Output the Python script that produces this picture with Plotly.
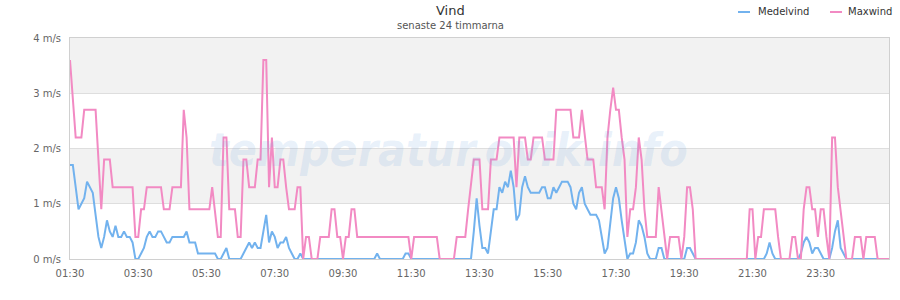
import pandas as pd
import plotly.graph_objects as go

# ---- data (5-minute samples, 01:30 -> 01:30 next day) ----
start_time = "2024-01-01 01:30"
n_samples = 289
times = pd.date_range(start_time, periods=n_samples, freq="5min")

medelvind = [
    1.7, 1.7, 1.3, 0.9, 1.0, 1.1, 1.4, 1.3, 1.2, 0.8, 0.4, 0.2,
    0.4, 0.7, 0.5, 0.4, 0.6, 0.4, 0.4, 0.5, 0.4, 0.4, 0.3, 0.0,
    0.0, 0.1, 0.2, 0.4, 0.5, 0.4, 0.4, 0.5, 0.5, 0.4, 0.3, 0.3,
    0.4, 0.4, 0.4, 0.4, 0.4, 0.5, 0.3, 0.3, 0.3, 0.1, 0.1, 0.1,
    0.1, 0.1, 0.1, 0.1, 0.0, 0.0, 0.1, 0.2, 0.0, 0.0, 0.0, 0.0,
    0.0, 0.1, 0.2, 0.3, 0.2, 0.3, 0.2, 0.2, 0.5, 0.8, 0.3, 0.5,
    0.4, 0.2, 0.3, 0.3, 0.4, 0.2, 0.1, 0.0, 0.0, 0.1, 0.0, 0.0,
    0.0, 0.0, 0.0, 0.0, 0.0, 0.0, 0.0, 0.0, 0.0, 0.0, 0.0, 0.0,
    0.0, 0.0, 0.0, 0.0, 0.0, 0.0, 0.0, 0.0, 0.0, 0.0, 0.0, 0.0,
    0.1, 0.0, 0.0, 0.0, 0.0, 0.0, 0.0, 0.0, 0.0, 0.0, 0.1, 0.1,
    0.0, 0.0, 0.0, 0.0, 0.0, 0.0, 0.0, 0.0, 0.0, 0.0, 0.0, 0.0,
    0.0, 0.0, 0.0, 0.0, 0.0, 0.0, 0.0, 0.0, 0.0, 0.0, 0.5, 1.1,
    0.6, 0.2, 0.2, 0.1, 0.5, 0.9, 0.9, 1.3, 1.2, 1.4, 1.3, 1.6,
    1.3, 0.7, 0.8, 1.3, 1.5, 1.3, 1.2, 1.2, 1.2, 1.2, 1.3, 1.3,
    1.1, 1.1, 1.3, 1.2, 1.3, 1.4, 1.4, 1.4, 1.3, 1.0, 0.9, 1.2,
    1.3, 1.0, 0.9, 0.8, 0.8, 0.8, 0.7, 0.4, 0.1, 0.2, 0.7, 1.1,
    1.3, 1.1, 0.7, 0.3, 0.0, 0.1, 0.1, 0.3, 0.7, 0.6, 0.4, 0.1,
    0.0, 0.0, 0.0, 0.2, 0.2, 0.0, 0.0, 0.0, 0.0, 0.0, 0.0, 0.0,
    0.0, 0.2, 0.2, 0.1, 0.0, 0.0, 0.0, 0.0, 0.0, 0.0, 0.0, 0.0,
    0.0, 0.0, 0.0, 0.0, 0.0, 0.0, 0.0, 0.0, 0.0, 0.0, 0.0, 0.0,
    0.0, 0.0, 0.0, 0.0, 0.0, 0.1, 0.3, 0.1, 0.0, 0.0, 0.0, 0.0,
    0.0, 0.0, 0.0, 0.0, 0.0, 0.1, 0.3, 0.4, 0.3, 0.1, 0.2, 0.2,
    0.1, 0.0, 0.0, 0.0, 0.2, 0.5, 0.7, 0.2, 0.1, 0.0, 0.0, 0.0,
    0.0, 0.0, 0.0, 0.0, 0.0, 0.0, 0.0, 0.0, 0.0, 0.0, 0.0, 0.0,
    0.0,
]

maxwind = [
    3.6, 2.9, 2.2, 2.2, 2.2, 2.7, 2.7, 2.7, 2.7, 2.7, 1.8, 0.9,
    1.8, 1.8, 1.8, 1.3, 1.3, 1.3, 1.3, 1.3, 1.3, 1.3, 1.3, 0.4,
    0.4, 0.9, 0.9, 1.3, 1.3, 1.3, 1.3, 1.3, 1.3, 0.9, 0.9, 0.9,
    1.3, 1.3, 1.3, 1.3, 2.7, 2.2, 0.9, 0.9, 0.9, 0.9, 0.9, 0.9,
    0.9, 0.9, 1.3, 0.9, 0.4, 0.4, 2.2, 2.2, 0.9, 0.9, 0.9, 0.4,
    0.4, 1.8, 1.8, 1.3, 1.3, 1.3, 1.8, 1.8, 3.6, 3.6, 1.3, 2.2,
    1.3, 1.3, 1.8, 1.8, 1.3, 0.9, 0.9, 0.9, 1.3, 1.3, 0.0, 0.4,
    0.4, 0.0, 0.0, 0.0, 0.4, 0.4, 0.4, 0.4, 0.9, 0.9, 0.4, 0.4,
    0.0, 0.4, 0.4, 0.9, 0.9, 0.4, 0.4, 0.4, 0.4, 0.4, 0.4, 0.4,
    0.4, 0.4, 0.4, 0.4, 0.4, 0.4, 0.4, 0.4, 0.4, 0.4, 0.4, 0.4,
    0.0, 0.4, 0.4, 0.4, 0.4, 0.4, 0.4, 0.4, 0.4, 0.4, 0.0, 0.0,
    0.0, 0.0, 0.0, 0.0, 0.4, 0.4, 0.4, 0.4, 0.9, 1.3, 1.8, 1.8,
    1.8, 0.9, 0.9, 0.9, 1.8, 1.8, 1.8, 2.2, 2.2, 2.2, 2.2, 2.2,
    2.2, 1.3, 2.2, 2.2, 2.2, 1.8, 1.8, 2.2, 2.2, 2.2, 2.2, 1.8,
    1.8, 1.8, 1.8, 2.7, 2.7, 2.7, 2.7, 2.7, 2.7, 2.2, 2.2, 2.2,
    2.7, 2.2, 1.8, 1.8, 1.8, 1.3, 1.3, 1.3, 0.9, 2.2, 2.7, 3.1,
    2.7, 2.7, 2.2, 1.8, 0.4, 0.9, 0.9, 1.3, 2.2, 1.8, 0.9, 0.4,
    0.4, 0.4, 0.4, 1.3, 0.9, 0.4, 0.0, 0.4, 0.4, 0.4, 0.4, 0.0,
    0.4, 1.3, 1.3, 0.9, 0.0, 0.0, 0.0, 0.0, 0.0, 0.0, 0.0, 0.0,
    0.0, 0.0, 0.0, 0.0, 0.0, 0.0, 0.0, 0.0, 0.0, 0.0, 0.0, 0.9,
    0.9, 0.0, 0.4, 0.4, 0.9, 0.9, 0.9, 0.9, 0.9, 0.4, 0.0, 0.0,
    0.0, 0.0, 0.4, 0.4, 0.0, 0.0, 0.9, 1.3, 1.3, 0.9, 0.9, 0.4,
    0.9, 0.9, 0.4, 0.0, 2.2, 2.2, 1.3, 0.9, 0.4, 0.0, 0.0, 0.0,
    0.4, 0.4, 0.4, 0.0, 0.4, 0.4, 0.4, 0.4, 0.0, 0.0, 0.0, 0.0,
    0.0,
]

series_names = ["Medelvind", "Maxwind"]
series_colors = ["#72b2ee", "#f28ac3"]
y_ticks = [0, 1, 2, 3, 4]
y_tick_labels = [f"{v} m/s" for v in y_ticks]
title_text = "Vind"
subtitle_text = "senaste 24 timmarna"
watermark_text = "temperatur.ovik.info"

# ---- layout geometry (pixels) ----
W, H = 900, 300
ML, MR, MT, MB = 70, 11, 38, 41
PW, PH = W - ML - MR, H - MT - MB


def px(x):
    return (x - ML) / PW


def py(y):
    return (H - MB - y) / PH


FONT = "DejaVu Sans"

fig = go.Figure()
for name, vals, col in zip(series_names, [medelvind, maxwind], series_colors):
    fig.add_trace(go.Scatter(
        x=times, y=vals, mode="lines", name=name,
        line=dict(color=col, width=2),
        hoverinfo="x+y",
    ))

shapes = []
# plot bands
for y0, y1 in [(1, 2), (3, 4)]:
    shapes.append(dict(type="rect", xref="paper", yref="y", x0=0, x1=1,
                       y0=y0, y1=y1, fillcolor="#f2f2f2", line=dict(width=0),
                       layer="below"))
# legend symbols
leg_y = py(12)
shapes.append(dict(type="line", xref="paper", yref="paper", x0=px(738), x1=px(750),
                   y0=leg_y, y1=leg_y, line=dict(color=series_colors[0], width=2)))
shapes.append(dict(type="line", xref="paper", yref="paper", x0=px(830), x1=px(842),
                   y0=leg_y, y1=leg_y, line=dict(color=series_colors[1], width=2)))

annotations = [
    dict(text=title_text, x=px(450), y=py(11), xref="paper", yref="paper",
         showarrow=False, xanchor="center", yanchor="middle",
         font=dict(family=FONT, size=13, color="#333333")),
    dict(text=subtitle_text, x=px(450), y=py(26), xref="paper", yref="paper",
         showarrow=False, xanchor="center", yanchor="middle",
         font=dict(family=FONT, size=10, color="#555555")),
    dict(text=series_names[0], x=px(756), y=leg_y, xref="paper", yref="paper",
         showarrow=False, xanchor="left", yanchor="middle",
         font=dict(family=FONT, size=10, color="#333333")),
    dict(text=series_names[1], x=px(846), y=leg_y, xref="paper", yref="paper",
         showarrow=False, xanchor="left", yanchor="middle",
         font=dict(family=FONT, size=10, color="#333333")),
    dict(text="<b><i>" + watermark_text + "</i></b>", x=px(448), y=py(150),
         xref="paper", yref="paper", showarrow=False,
         xanchor="center", yanchor="middle",
         font=dict(family="DejaVu Sans Condensed, DejaVu Sans, sans-serif",
                   size=46, color="rgba(120,170,225,0.17)")),
]

fig.update_layout(
    width=W, height=H,
    margin=dict(l=ML, r=MR, t=MT, b=MB, pad=0),
    paper_bgcolor="white", plot_bgcolor="white",
    showlegend=False,
    shapes=shapes, annotations=annotations,
    font=dict(family=FONT, size=10, color="#666666"),
    xaxis=dict(
        type="date", range=[times[0], times[-1]],
        tick0=times[0], dtick=2 * 3600 * 1000, tickformat="%H:%M",
        showgrid=False, zeroline=False,
        showline=True, mirror=True, linecolor="#d0d0d0", linewidth=1,
        ticks="", ticklabelstandoff=5,
        tickfont=dict(family=FONT, size=10, color="#666666"),
    ),
    yaxis=dict(
        range=[0, 4], tickmode="array", tickvals=y_ticks, ticktext=y_tick_labels,
        showgrid=True, gridcolor="#dedede", gridwidth=1, zeroline=False,
        showline=True, mirror=True, linecolor="#d0d0d0", linewidth=1,
        ticks="", ticklabelstandoff=6,
        tickfont=dict(family=FONT, size=10, color="#666666"),
    ),
)

fig.write_html("out.html")
